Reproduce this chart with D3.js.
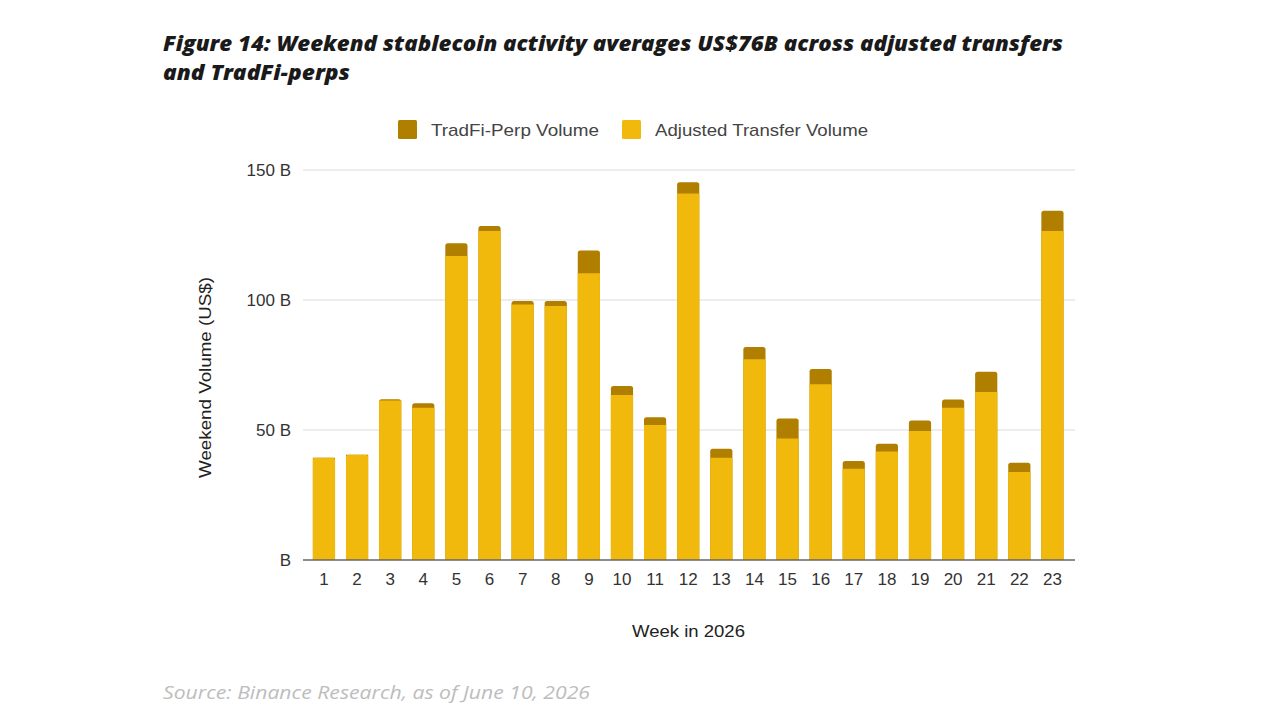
<!DOCTYPE html>
<html>
<head>
<meta charset="utf-8">
<script src="https://cdn.jsdelivr.net/npm/d3@7"></script>
<style>
  html, body { margin: 0; padding: 0; background: #fff; }
  svg { display: block; }
</style>
</head>
<body>
<svg id="chart" width="1280" height="720"></svg>
<script>
const weeks = ["1","2","3","4","5","6","7","8","9","10","11","12","13","14","15","16","17","18","19","20","21","22","23"];
const adjustedTransfer = [39.3, 40.5, 61.3, 58.6, 116.9, 126.5, 98.3, 97.7, 110.3, 63.5, 51.9, 141.0, 39.3, 77.2, 46.7, 67.6, 35.1, 41.7, 49.6, 58.6, 64.6, 33.8, 126.5];
const tradfiPerp = [0, 0, 0.5, 1.7, 4.9, 2.0, 1.3, 1.9, 8.7, 3.4, 3.0, 4.3, 3.5, 4.7, 7.7, 5.9, 3.0, 3.0, 4.1, 3.1, 7.8, 3.6, 7.8];
const yTicks = [0, 50, 100, 150];
const seriesNames = ["TradFi-Perp Volume", "Adjusted Transfer Volume"];
const colors = { perp: "#B07F00", adj: "#F0B90B" };

const svg = d3.select("#chart");
const sans = "'Liberation Sans', Arial, sans-serif";

// Title
const title = svg.append("g").attr("font-family", "'Open Sans', Lato, sans-serif")
  .attr("font-style", "italic").attr("font-weight", 800).attr("fill", "#1a1a1a").attr("font-size", 21.5);
title.append("text").attr("x", 163).attr("y", 51)
  .attr("textLength", 900).attr("lengthAdjust", "spacingAndGlyphs")
  .text("Figure 14: Weekend stablecoin activity averages US$76B across adjusted transfers");
title.append("text").attr("x", 163).attr("y", 80)
  .attr("textLength", 187).attr("lengthAdjust", "spacingAndGlyphs")
  .text("and TradFi-perps");

// Scales
const x = d3.scaleBand().domain(weeks).range([307.4, 1069]).paddingInner(0.33).paddingOuter(0.165);
const y = d3.scaleLinear().domain([0, 150]).range([560, 170]);

// Gridlines
svg.append("g").selectAll("line").data(yTicks.filter(d => d > 0)).join("line")
  .attr("x1", 303).attr("x2", 1075)
  .attr("y1", d => y(d)).attr("y2", d => y(d))
  .attr("stroke", "#dcdcdc").attr("stroke-width", 1.2);

// Y axis labels
const yAxis = d3.axisLeft(y).tickValues(yTicks).tickSize(0).tickPadding(0)
  .tickFormat(d => d === 0 ? "B" : d + " B");
const yg = svg.append("g").attr("transform", "translate(291,0)").call(yAxis);
yg.select(".domain").remove();
yg.selectAll("text").attr("font-family", sans)
  .attr("font-size", 17).attr("fill", "#333");

// Bars
const data = weeks.map((w, i) => ({ w, adj: adjustedTransfer[i], perp: tradfiPerp[i] }));
const r = 2.5;
function roundedTop(x0, y0, w, h, rad) {
  rad = Math.min(rad, h, w / 2);
  return `M${x0},${y0 + h}V${y0 + rad}Q${x0},${y0} ${x0 + rad},${y0}H${x0 + w - rad}Q${x0 + w},${y0} ${x0 + w},${y0 + rad}V${y0 + h}Z`;
}
const bars = svg.append("g");
bars.selectAll("path.perp").data(data).join("path").attr("class", "perp")
  .attr("fill", colors.perp)
  .attr("d", d => {
    const top = y(d.adj + d.perp);
    return roundedTop(x(d.w), top, x.bandwidth(), y(0) - top, d.perp > 0.3 ? r : 0);
  });
bars.selectAll("path.adj").data(data).join("path").attr("class", "adj")
  .attr("fill", colors.adj)
  .attr("d", d => {
    const top = y(d.adj);
    return roundedTop(x(d.w), top, x.bandwidth(), y(0) - top, d.perp > 0.3 ? 0 : r);
  });

// Baseline
svg.append("line").attr("x1", 303).attr("x2", 1075).attr("y1", y(0)).attr("y2", y(0))
  .attr("stroke", "#666").attr("stroke-width", 1.5);

// X axis labels
const xAxis = d3.axisBottom(x).tickSize(0).tickPadding(0);
const xg = svg.append("g").attr("transform", "translate(0,573)").call(xAxis);
xg.select(".domain").remove();
xg.selectAll("text").attr("font-family", sans)
  .attr("font-size", 17).attr("fill", "#333");

// Axis titles
svg.append("text").attr("x", 632).attr("y", 637)
  .attr("font-family", sans).attr("font-size", 17).attr("fill", "#222")
  .attr("textLength", 113).attr("lengthAdjust", "spacingAndGlyphs")
  .text("Week in 2026");
svg.append("text").attr("transform", "translate(211,478) rotate(-90)")
  .attr("font-family", sans).attr("font-size", 17).attr("fill", "#222")
  .attr("textLength", 201).attr("lengthAdjust", "spacingAndGlyphs")
  .text("Weekend Volume (US$)");

// Legend
const legendItems = [
  { name: seriesNames[0], color: colors.perp, x: 398, w: 168 },
  { name: seriesNames[1], color: colors.adj, x: 622, w: 213 }
];
const lg = svg.append("g").selectAll("g").data(legendItems).join("g")
  .attr("transform", d => `translate(${d.x},120)`);
lg.append("rect").attr("width", 19).attr("height", 19).attr("rx", 1.5).attr("fill", d => d.color);
lg.append("text").attr("x", 33).attr("y", 15.5)
  .attr("font-family", sans).attr("font-size", 17).attr("fill", "#444")
  .attr("textLength", d => d.w).attr("lengthAdjust", "spacingAndGlyphs")
  .text(d => d.name);

// Source
svg.append("text").attr("x", 163).attr("y", 699)
  .attr("font-family", "'Open Sans', Lato, sans-serif").attr("font-style", "italic")
  .attr("font-size", 18).attr("fill", "#bdbdbd")
  .attr("textLength", 427).attr("lengthAdjust", "spacingAndGlyphs")
  .text("Source: Binance Research, as of June 10, 2026");
</script>
</body>
</html>
